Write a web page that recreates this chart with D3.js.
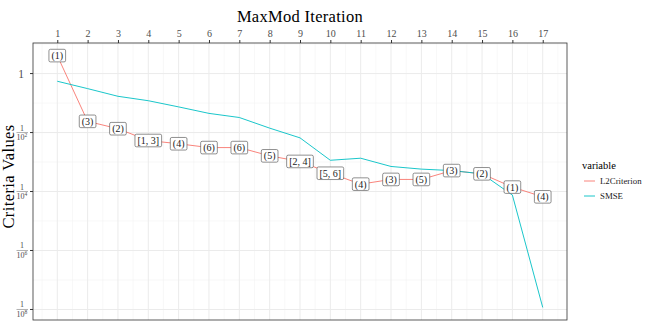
<!DOCTYPE html>
<html lang="en">
<head>
<meta charset="UTF-8" />
<title>MaxMod Iteration</title>
<script src="https://cdn.jsdelivr.net/npm/d3@7"></script>
<style>
	* { margin: 0; padding: 0; }
	body { background: #fff; }
	svg text { font-family: 'Liberation Serif', 'DejaVu Serif', serif; }
</style>
</head>
<body>
<svg id="chart" width="650" height="325"></svg>
<script>
// data (log10 of the criteria values)
const iterations = d3.range(1, 18);
const l2Log = [0.61, -1.62, -1.87, -2.27, -2.38, -2.51, -2.51, -2.79, -2.98, -3.38, -3.75, -3.59, -3.59, -3.29, -3.40, -3.85, -4.18];
const smseLog = [-0.26, -0.51, -0.77, -0.92, -1.13, -1.35, -1.49, -1.85, -2.18, -2.94, -2.87, -3.15, -3.24, -3.29, -3.40, -4.12, -7.93];
const pointLabels = ['(1)', '(3)', '(2)', '[1, 3]', '(4)', '(6)', '(6)', '(5)', '[2, 4]', '[5, 6]', '(4)', '(3)', '(5)', '(3)', '(2)', '(1)', '(4)'];
const yTickExps = [0, -2, -4, -6, -8];
const seriesNames = ['L2Criterion', 'SMSE'];
const seriesColors = ['#F8766D', '#00BFC4'];

const l2 = iterations.map((it, i) => ({ x: it, v: Math.pow(10, l2Log[i]), label: pointLabels[i] }));
const smse = iterations.map((it, i) => ({ x: it, v: Math.pow(10, smseLog[i]) }));

const svg = d3.select('#chart');
const panel = { left: 33, right: 567, top: 43, bottom: 320 };

const x = d3.scaleLinear().domain([0.2, 17.8]).range([panel.left, panel.right]);
const allLog = l2Log.concat(smseLog);
const lo = d3.min(allLog), hi = d3.max(allLog), pad = (hi - lo) * 0.05;
const y = d3.scaleLog().domain([Math.pow(10, lo - pad), Math.pow(10, hi + pad)]).range([panel.bottom, panel.top]);

// grid
const g = svg.append('g');
const minorX = d3.range(0.5, 18, 1);
g.selectAll('.minx').data(minorX).join('line')
	.attr('x1', d => x(d)).attr('x2', d => x(d))
	.attr('y1', panel.top).attr('y2', panel.bottom)
	.attr('stroke', '#f4f4f4').attr('stroke-width', 0.6);
const minorY = [1, -1, -3, -5, -7];
g.selectAll('.miny').data(minorY).join('line')
	.attr('x1', panel.left).attr('x2', panel.right)
	.attr('y1', d => y(Math.pow(10, d))).attr('y2', d => y(Math.pow(10, d)))
	.attr('stroke', '#f4f4f4').attr('stroke-width', 0.6);
g.selectAll('.majx').data(iterations).join('line')
	.attr('x1', d => x(d)).attr('x2', d => x(d))
	.attr('y1', panel.top).attr('y2', panel.bottom)
	.attr('stroke', '#ebebeb').attr('stroke-width', 1);
g.selectAll('.majy').data(yTickExps).join('line')
	.attr('x1', panel.left).attr('x2', panel.right)
	.attr('y1', d => y(Math.pow(10, d))).attr('y2', d => y(Math.pow(10, d)))
	.attr('stroke', '#ebebeb').attr('stroke-width', 1);

// top axis
const xAxis = svg.append('g').attr('transform', `translate(0,${panel.top})`)
	.call(d3.axisTop(x).tickValues(iterations).tickSize(3).tickPadding(3));
xAxis.select('.domain').remove();
xAxis.selectAll('line').attr('stroke', '#333');
xAxis.selectAll('text').attr('fill', '#4d4d4d').style('font-size', '10px');

// left axis ticks and fraction labels
const yAx = svg.append('g');
yAx.selectAll('line').data(yTickExps).join('line')
	.attr('x1', panel.left - 3).attr('x2', panel.left)
	.attr('y1', d => y(Math.pow(10, d))).attr('y2', d => y(Math.pow(10, d)))
	.attr('stroke', '#333');
yTickExps.forEach(e => {
	const yy = y(Math.pow(10, e));
	if (e === 0) {
		yAx.append('text').attr('x', 21).attr('y', yy + 4).attr('text-anchor', 'middle')
			.attr('fill', '#4d4d4d').style('font-size', '11.5px').text('1');
	} else {
		yAx.append('text').attr('x', 22).attr('y', yy - 2).attr('text-anchor', 'middle')
			.attr('fill', '#4d4d4d').style('font-size', '8px').text('1');
		yAx.append('line').attr('x1', 16.5).attr('x2', 28).attr('y1', yy).attr('y2', yy)
			.attr('stroke', '#4d4d4d').attr('stroke-width', 0.45);
		const t = yAx.append('text').attr('x', 16.5).attr('y', yy + 7.5)
			.attr('fill', '#4d4d4d').style('font-size', '8px');
		t.append('tspan').text('10');
		t.append('tspan').attr('dy', -3).style('font-size', '5.5px').text(-e);
	}
});

// lines
const line = d3.line().x(d => x(d.x)).y(d => y(d.v));
svg.append('path').datum(l2).attr('d', line)
	.attr('fill', 'none').attr('stroke', seriesColors[0]).attr('stroke-width', 0.9);
svg.append('path').datum(smse).attr('d', line)
	.attr('fill', 'none').attr('stroke', seriesColors[1]).attr('stroke-width', 0.9);

// labels
const lab = svg.append('g').selectAll('g').data(l2).join('g')
	.attr('transform', d => `translate(${x(d.x)},${y(d.v)})`);
lab.append('text').attr('text-anchor', 'middle').attr('y', 3.4)
	.style('font-size', '10px').attr('fill', '#222').text(d => d.label);
lab.each(function () {
	const b = d3.select(this).select('text').node().getBBox();
	d3.select(this).insert('rect', 'text')
		.attr('x', b.x - 2.5).attr('y', -6.3).attr('width', b.width + 5).attr('height', 12.6)
		.attr('rx', 1.5).attr('fill', '#fff').attr('stroke', '#444').attr('stroke-width', 0.6);
});

// panel border
svg.append('rect').attr('x', panel.left).attr('y', panel.top)
	.attr('width', panel.right - panel.left).attr('height', panel.bottom - panel.top)
	.attr('fill', 'none').attr('stroke', '#333').attr('stroke-width', 0.8);

// titles
svg.append('text').attr('x', (panel.left + panel.right) / 2).attr('y', 22)
	.attr('text-anchor', 'middle').style('font-size', '16.5px').style('letter-spacing', '0.3px')
	.text('MaxMod Iteration');
svg.append('text').attr('transform', `translate(14,${(panel.top + panel.bottom) / 2 - 5}) rotate(-90)`)
	.attr('text-anchor', 'middle').style('font-size', '16.5px').style('letter-spacing', '0.4px')
	.text('Criteria Values');

// legend
const leg = svg.append('g').attr('transform', 'translate(582,0)');
leg.append('text').attr('x', 0).attr('y', 169).style('font-size', '10.5px').text('variable');
seriesNames.forEach((n, i) => {
	const yy = 181 + i * 15;
	leg.append('line').attr('x1', 2).attr('x2', 13).attr('y1', yy).attr('y2', yy)
		.attr('stroke', seriesColors[i]).attr('stroke-width', 0.9);
	leg.append('text').attr('x', 18).attr('y', yy + 3).style('font-size', '8.8px').attr('fill', '#222').text(n);
});
</script>
</body>
</html>
